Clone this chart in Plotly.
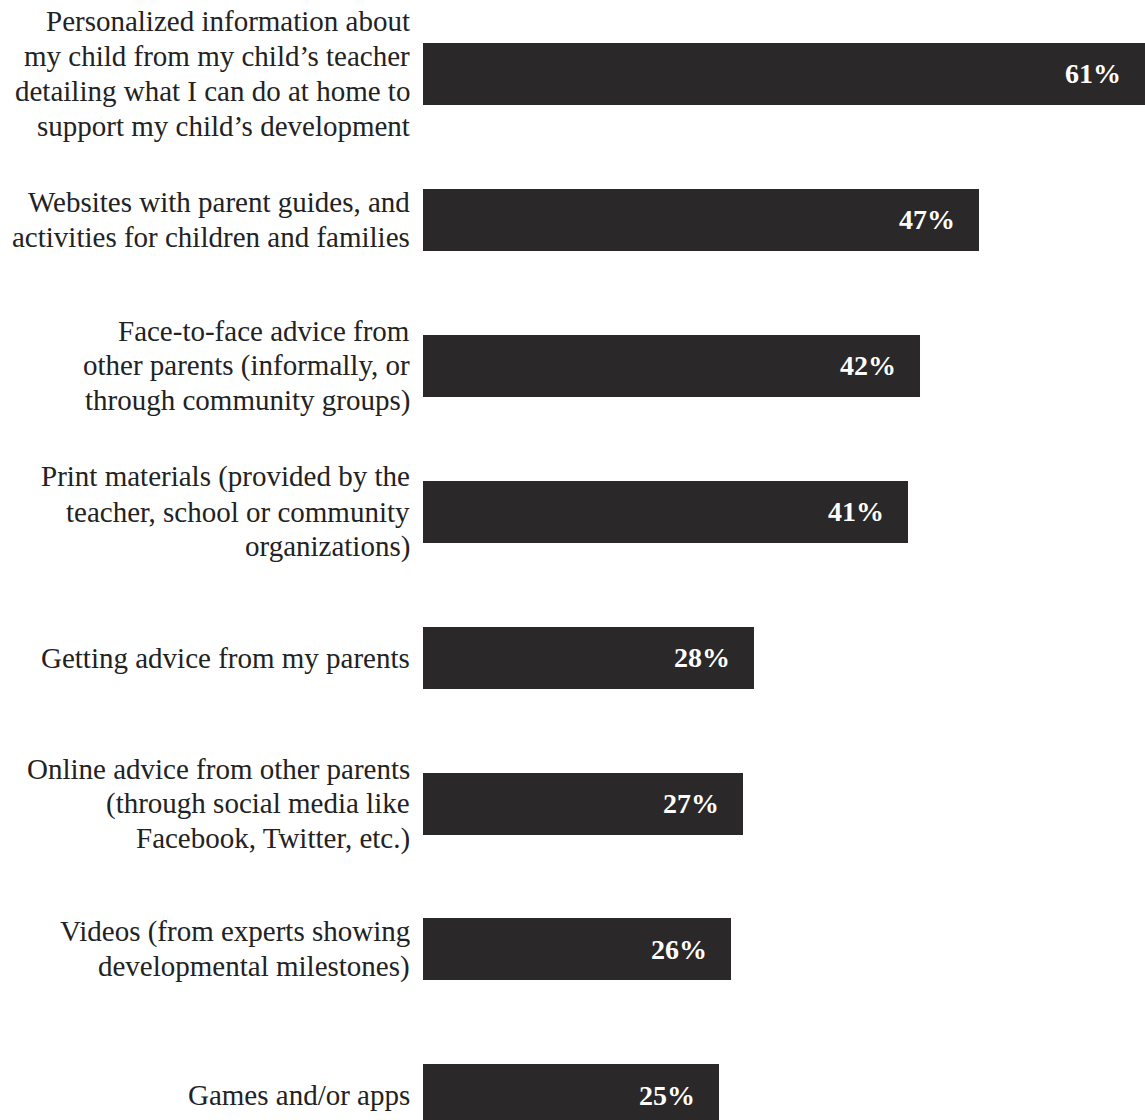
import plotly.graph_objects as go

categories = [
    ["Personalized information about",
     "my child from my child’s teacher",
     "detailing what I can do at home to",
     "support my child’s development"],
    ["Websites with parent guides, and",
     "activities for children and families"],
    ["Face-to-face advice from",
     "other parents (informally, or",
     "through community groups)"],
    ["Print materials (provided by the",
     "teacher, school or community",
     "organizations)"],
    ["Getting advice from my parents"],
    ["Online advice from other parents",
     "(through social media like",
     "Facebook, Twitter, etc.)"],
    ["Videos (from experts showing",
     "developmental milestones)"],
    ["Games and/or apps"],
]
values = [61, 47, 42, 41, 28, 27, 26, 25]
value_labels = [f"{v}%" for v in values]

positions = list(range(len(categories)))

BAR = "#2a2829"
TEXT = "#222222"
SERIF = "Liberation Serif, Times New Roman, serif"
LINE_GAP = 35  # px between label lines

fig = go.Figure(
    go.Bar(
        x=values,
        y=positions,
        orientation="h",
        width=0.425,
        marker=dict(color=BAR, line=dict(width=0)),
        hoverinfo="skip",
    )
)

# value labels inside the bar ends
for v, p, lab in zip(values, positions, value_labels):
    fig.add_annotation(
        x=v, y=p, text=f"<b>{lab}</b>", showarrow=False,
        xanchor="right", yanchor="middle", xshift=-22,
        font=dict(family=SERIF, size=28, color="white"),
    )

# category labels, right-aligned to the left of the bars
for p, lines in zip(positions, categories):
    n = len(lines)
    for k, line in enumerate(lines):
        fig.add_annotation(
            x=0, xref="paper", y=p, yref="y",
            text=line, showarrow=False,
            xanchor="right", yanchor="middle",
            xshift=-11, yshift=-(k - (n - 1) / 2) * LINE_GAP,
            font=dict(family=SERIF, size=29, color=TEXT),
        )

fig.update_layout(
    width=1145,
    height=1120,
    margin=dict(l=423, r=0, t=0, b=0),
    paper_bgcolor="white",
    plot_bgcolor="white",
    showlegend=False,
    bargap=0,
)
fig.update_xaxes(range=[0, 61.01], visible=False, fixedrange=True)
fig.update_yaxes(
    range=[7.169, -0.507],
    showticklabels=False,
    ticks="",
    showgrid=False,
    zeroline=False,
    showline=False,
    fixedrange=True,
)

fig.write_html("out.html")
